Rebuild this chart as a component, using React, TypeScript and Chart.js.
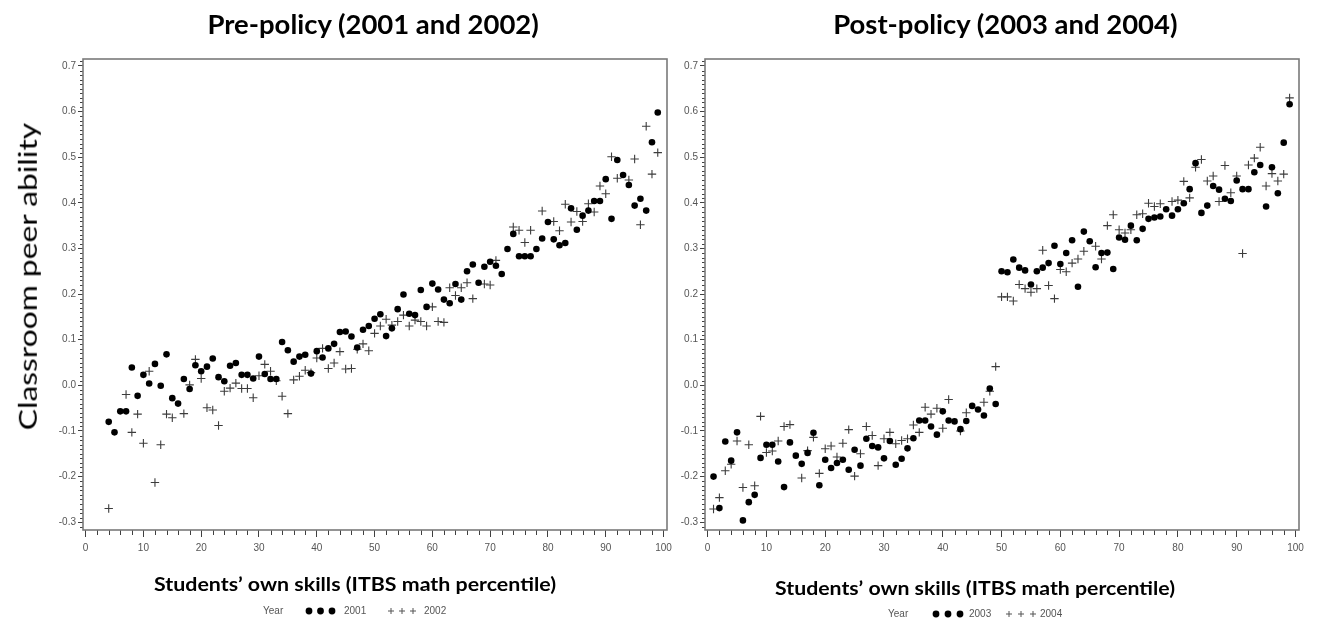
import React, { useEffect, useRef } from "react";
import { Chart, registerables } from "chart.js";

Chart.register(...registerables);

// ---------------- data ----------------
const PRE_2001_X = [
  4, 5, 6, 7, 8, 9, 10, 11, 12, 13, 14, 15, 16, 17, 18, 19, 20, 21, 22, 23,
  24, 25, 26, 27, 28, 29, 30, 31, 32, 33, 34, 35, 36, 37, 38, 39, 40, 41, 42, 43,
  44, 45, 46, 47, 48, 49, 50, 51, 52, 53, 54, 55, 56, 57, 58, 59, 60, 61, 62, 63,
  64, 65, 66, 67, 68, 69, 70, 71, 72, 73, 74, 75, 76, 77, 78, 79, 80, 81, 82, 83,
  84, 85, 86, 87, 88, 89, 90, 91, 92, 93, 94, 95, 96, 97, 98, 99,
];
const PRE_2001_Y = [
  -0.08, -0.103, -0.057, -0.057, 0.039, -0.023, 0.023, 0.004, 0.047, -0.001, 0.068, -0.028, -0.04, 0.014, -0.008, 0.044, 0.031, 0.041, 0.059, 0.018,
  0.009, 0.043, 0.049, 0.023, 0.023, 0.015, 0.063, 0.025, 0.014, 0.014, 0.095, 0.077, 0.052, 0.063, 0.067, 0.026, 0.075, 0.061, 0.081, 0.091,
  0.117, 0.118, 0.107, 0.083, 0.122, 0.13, 0.146, 0.156, 0.108, 0.125, 0.167, 0.199, 0.157, 0.154, 0.209, 0.172, 0.223, 0.21, 0.188, 0.18,
  0.222, 0.188, 0.25, 0.265, 0.225, 0.26, 0.271, 0.262, 0.244, 0.299, 0.332, 0.283, 0.283, 0.283, 0.299, 0.322, 0.358, 0.32, 0.307, 0.312,
  0.388, 0.341, 0.372, 0.383, 0.404, 0.404, 0.452, 0.365, 0.494, 0.461, 0.439, 0.394, 0.409, 0.383, 0.533, 0.598,
];

const PRE_2002_X = [
  4, 7, 8, 9, 10, 11, 12, 13, 14, 15,
  17, 18, 19, 20, 21, 22, 23, 24, 25, 26, 27, 28, 29, 30, 31, 32, 33, 34, 35, 36,
  37, 38, 39, 40, 41, 42, 43, 44, 45, 46, 47, 48, 49, 50, 51, 52, 53, 54, 55, 56,
  57, 58, 59, 60, 61, 62, 63, 64, 65, 66, 67,
  69, 70, 71, 74, 75, 76, 77, 79,
  81, 82, 83, 84, 85, 86, 87, 88, 89, 90, 91, 92,
  94, 95, 96, 97, 98, 99,
];
const PRE_2002_Y = [
  -0.27, -0.02, -0.103, -0.063, -0.127, 0.031, -0.213, -0.13, -0.063, -0.071,
  -0.062, 0.001, 0.057, 0.015, -0.049, -0.054, -0.088, -0.013, -0.006, 0.005, -0.007, -0.007, -0.027, 0.021, 0.046, 0.031, 0.01, -0.024, -0.062, 0.012,
  0.02, 0.033, 0.028, 0.06, 0.081, 0.037, 0.049, 0.074, 0.036, 0.037, 0.079, 0.091, 0.076, 0.114, 0.13, 0.145, 0.132, 0.14, 0.154, 0.13,
  0.143, 0.14, 0.13, 0.172, 0.14, 0.138, 0.214, 0.197, 0.214, 0.225, 0.19,
  0.222, 0.22, 0.274, 0.347, 0.34, 0.313, 0.34, 0.382,
  0.359, 0.339, 0.397, 0.358, 0.381, 0.359, 0.398, 0.38, 0.437, 0.42, 0.501, 0.454,
  0.45, 0.496, 0.352, 0.568, 0.463, 0.51,
];

const POST_2003_X = [
  1, 2, 3, 4, 5, 6, 7, 8, 9, 10, 11, 12, 13, 14, 15, 16, 17, 18, 19, 20,
  21, 22, 23, 24, 25, 26, 27, 28, 29, 30, 31, 32, 33, 34, 35, 36, 37, 38, 39, 40,
  41, 42, 43, 44, 45, 46, 47, 48, 49, 50, 51, 52, 53, 54, 55, 56, 57, 58, 59, 60,
  61, 62, 63, 64, 65, 66, 67, 68, 69, 70, 71, 72, 73, 74, 75, 76, 77, 78, 79, 80,
  81, 82, 83, 84, 85, 86, 87, 88, 89, 90, 91, 92, 93, 94, 95, 96, 97, 98, 99,
];
const POST_2003_Y = [
  -0.2, -0.269, -0.123, -0.165, -0.103, -0.296, -0.256, -0.24, -0.159, -0.13, -0.13, -0.167, -0.223, -0.125, -0.154, -0.172, -0.148, -0.104, -0.219, -0.163,
  -0.181, -0.17, -0.163, -0.185, -0.141, -0.176, -0.117, -0.133, -0.136, -0.16, -0.122, -0.174, -0.161, -0.138, -0.116, -0.077, -0.077, -0.09, -0.108, -0.057,
  -0.077, -0.079, -0.096, -0.078, -0.045, -0.053, -0.066, -0.007, -0.041, 0.25, 0.248, 0.276, 0.258, 0.252, 0.221, 0.25, 0.258, 0.268, 0.306, 0.266,
  0.29, 0.318, 0.216, 0.337, 0.316, 0.259, 0.29, 0.291, 0.255, 0.324, 0.319, 0.35, 0.318, 0.343, 0.365, 0.368, 0.37, 0.386, 0.372, 0.386,
  0.399, 0.43, 0.487, 0.378, 0.394, 0.437, 0.429, 0.409, 0.404, 0.449, 0.43, 0.43, 0.467, 0.483, 0.392, 0.478, 0.421, 0.532, 0.616,
];

const POST_2004_X = [
  1, 2, 3, 4, 5, 6, 7, 8, 9, 10, 11, 12, 13, 14,
  16, 17, 18, 19, 20, 21, 22, 23, 24, 25, 26, 27, 28, 29, 30, 31, 32, 33, 34, 35, 36, 37, 38, 39, 40, 41,
  43, 44,
  47, 48, 49, 50, 51, 52, 53, 54, 55, 56, 57, 58, 59, 60, 61, 62, 63, 64,
  66, 67, 68, 69, 70, 71, 72, 73, 74, 75, 76, 77,
  79, 80, 81, 82, 83, 84, 85, 86, 87, 88, 89, 90, 91, 92, 93, 94, 95, 96, 97, 98, 99,
];
const POST_2004_Y = [
  -0.271, -0.246, -0.187, -0.173, -0.122, -0.224, -0.13, -0.22, -0.068, -0.147, -0.144, -0.122, -0.09, -0.086,
  -0.203, -0.143, -0.114, -0.193, -0.139, -0.133, -0.157, -0.127, -0.097, -0.199, -0.15, -0.09, -0.11, -0.176, -0.117, -0.103, -0.128, -0.121, -0.117, -0.087, -0.103, -0.048, -0.063, -0.05, -0.094, -0.031,
  -0.1, -0.06,
  -0.037, -0.013, 0.041, 0.194, 0.194, 0.185, 0.221, 0.212, 0.204, 0.212, 0.296, 0.219, 0.19, 0.254, 0.249, 0.268, 0.277, 0.294,
  0.305, 0.277, 0.35, 0.374, 0.341, 0.334, 0.341, 0.374, 0.376, 0.399, 0.392, 0.398,
  0.403, 0.406, 0.447, 0.411, 0.478, 0.495, 0.448, 0.459, 0.403, 0.482, 0.422, 0.459, 0.289, 0.483, 0.498, 0.522, 0.437, 0.464, 0.448, 0.463, 0.63,
];

const Y_TICKS = [-0.3, -0.2, -0.1, 0, 0.1, 0.2, 0.3, 0.4, 0.5, 0.6, 0.7];
const X_TICKS = [0, 10, 20, 30, 40, 50, 60, 70, 80, 90, 100];
const Y_MIN = -0.317;
const Y_MAX = 0.7153;
const X_MIN = -0.45;
const X_MAX = 100.6;

// ---------------- helpers ----------------
function toPoints(xs: number[], ys: number[]) {
  return xs.map((x, i) => ({ x, y: ys[i] }));
}

const frameMinorPlugin = {
  id: "frameMinor",
  afterDraw(chart: any) {
    const { ctx, chartArea: a, scales } = chart;
    const xs = scales.x;
    const ys = scales.y;
    ctx.save();
    ctx.strokeStyle = "#404040";
    ctx.lineWidth = 1;
    ctx.beginPath();
    for (let i = 0; i <= 100; i += 2) {
      if (i % 10 === 0) continue;
      const px = Math.round(xs.getPixelForValue(i)) + 0.5;
      ctx.moveTo(px, a.bottom);
      ctx.lineTo(px, a.bottom + 5);
    }
    for (let i = -31; i <= 71; i++) {
      if (i % 10 === 0) continue;
      const py = Math.round(ys.getPixelForValue(i / 100)) + 0.5;
      ctx.moveTo(a.left - 3, py);
      ctx.lineTo(a.left, py);
    }
    ctx.stroke();
    ctx.strokeStyle = "#7a7a7a";
    ctx.lineWidth = 1.6;
    ctx.strokeRect(a.left, a.top, a.right - a.left, a.bottom - a.top);
    ctx.restore();
  },
};

const TICK_FONT = { family: "'Liberation Sans', Arial, sans-serif", size: 10 };

function makeConfig(
  dotX: number[],
  dotY: number[],
  dotLabel: string,
  crossX: number[],
  crossY: number[],
  crossLabel: string,
  yAxisWidth: number,
  padRight: number
): any {
  return {
    type: "scatter",
    data: {
      datasets: [
        {
          label: dotLabel,
          data: toPoints(dotX, dotY),
          pointStyle: "circle",
          pointRadius: 3.3,
          backgroundColor: "#000000",
          borderColor: "#000000",
          borderWidth: 0,
        },
        {
          label: crossLabel,
          data: toPoints(crossX, crossY),
          pointStyle: "cross",
          pointRadius: 4.2,
          backgroundColor: "rgba(0,0,0,0)",
          borderColor: "#3c3c3c",
          borderWidth: 1.1,
        },
      ],
    },
    options: {
      responsive: false,
      animation: false,
      events: [],
      layout: { padding: { left: 0, right: padRight, top: 59, bottom: 55 } },
      plugins: {
        legend: { display: false },
        title: { display: false },
        tooltip: { enabled: false },
      },
      scales: {
        x: {
          type: "linear",
          position: "bottom",
          min: X_MIN,
          max: X_MAX,
          border: { display: false },
          grid: {
            drawOnChartArea: false,
            drawTicks: true,
            tickLength: 7,
            color: "#404040",
            lineWidth: 1,
          },
          ticks: {
            font: TICK_FONT,
            color: "#555555",
            padding: 5,
            maxRotation: 0,
            autoSkip: false,
            callback: (v: any) => String(Math.round(Number(v))),
          },
          afterBuildTicks: (s: any) => {
            s.ticks = X_TICKS.map((v) => ({ value: v }));
          },
          afterFit: (s: any) => {
            s.height = 40;
          },
        },
        y: {
          type: "linear",
          position: "left",
          min: Y_MIN,
          max: Y_MAX,
          border: { display: false },
          grid: {
            drawOnChartArea: false,
            drawTicks: true,
            tickLength: 5,
            color: "#404040",
            lineWidth: 1,
          },
          ticks: {
            font: TICK_FONT,
            color: "#555555",
            padding: 2,
            autoSkip: false,
            callback: (v: any) => Number(v).toFixed(1),
          },
          afterBuildTicks: (s: any) => {
            s.ticks = Y_TICKS.map((v) => ({ value: v }));
          },
          afterFit: (s: any) => {
            s.width = yAxisWidth;
          },
        },
      },
    },
    plugins: [frameMinorPlugin],
  };
}

function ScatterPanel(props: {
  left: number;
  width: number;
  config: () => any;
}) {
  const ref = useRef<HTMLCanvasElement | null>(null);
  useEffect(() => {
    if (!ref.current) return;
    const chart = new Chart(ref.current, props.config());
    return () => chart.destroy();
  }, []);
  return (
    <canvas
      ref={ref}
      width={props.width}
      height={625}
      style={{ position: "absolute", left: props.left, top: 0, width: props.width, height: 625, display: "block" }}
    />
  );
}

let measureCtx: CanvasRenderingContext2D | null = null;
function measure(text: string, font: string) {
  if (!measureCtx) measureCtx = document.createElement("canvas").getContext("2d");
  if (!measureCtx) return text.length * 10;
  measureCtx.font = font;
  return measureCtx.measureText(text).width;
}

function FitText(props: {
  text: string;
  family: string;
  weight: number;
  size: number;
  cx: number;
  cy: number;
  targetWidth: number;
  rotate?: boolean;
  color?: string;
}) {
  const font = `${props.weight} ${props.size}px ${props.family}`;
  const w = measure(props.text, font);
  const k = props.targetWidth / w;
  const tr = props.rotate ? `rotate(-90deg) scaleX(${k})` : `scaleX(${k})`;
  return (
    <div
      style={{
        position: "absolute",
        left: props.cx - w / 2,
        top: props.cy - props.size / 2,
        width: w,
        height: props.size,
        lineHeight: `${props.size}px`,
        font,
        color: props.color || "#000",
        whiteSpace: "nowrap",
        transform: tr,
        transformOrigin: "50% 50%",
        textAlign: "center",
      }}
    >
      {props.text}
    </div>
  );
}

function Legend(props: {
  cy: number;
  yearX: number;
  dotXs: number[];
  dotLabel: string;
  dotLabelX: number;
  crossXs: number[];
  crossLabel: string;
  crossLabelX: number;
}) {
  const txt: React.CSSProperties = {
    position: "absolute",
    top: props.cy - 6,
    height: 12,
    lineHeight: "12px",
    font: "10px 'Liberation Sans', Arial, sans-serif",
    color: "#555555",
    whiteSpace: "nowrap",
  };
  return (
    <>
      <div style={{ ...txt, left: props.yearX }}>Year</div>
      <svg
        style={{ position: "absolute", left: 0, top: props.cy - 6, overflow: "visible" }}
        width={1}
        height={12}
      >
        {props.dotXs.map((x, i) => (
          <circle key={"d" + i} cx={x} cy={6} r={3.4} fill="#000" />
        ))}
        {props.crossXs.map((x, i) => (
          <g key={"c" + i} stroke="#555555" strokeWidth={1}>
            <line x1={x - 3} y1={6} x2={x + 3} y2={6} />
            <line x1={x} y1={3} x2={x} y2={9} />
          </g>
        ))}
      </svg>
      <div style={{ ...txt, left: props.dotLabelX }}>{props.dotLabel}</div>
      <div style={{ ...txt, left: props.crossLabelX }}>{props.crossLabel}</div>
    </>
  );
}

const TITLE_FAMILY = "Lato, 'Open Sans', sans-serif";

export default function App() {
  return (
    <div
      style={{
        position: "absolute",
        left: 0,
        top: 0,
        width: 1319,
        height: 625,
        background: "#ffffff",
        overflow: "hidden",
      }}
    >
      <ScatterPanel
        left={0}
        width={690}
        config={() =>
          makeConfig(PRE_2001_X, PRE_2001_Y, "2001", PRE_2002_X, PRE_2002_Y, "2002", 83, 23)
        }
      />
      <ScatterPanel
        left={670}
        width={649}
        config={() =>
          makeConfig(POST_2003_X, POST_2003_Y, "2003", POST_2004_X, POST_2004_Y, "2004", 35, 20)
        }
      />

      <FitText text="Pre-policy (2001 and 2002)" family={TITLE_FAMILY} weight={700} size={26} cx={373} cy={21} targetWidth={332} />
      <FitText text="Post-policy (2003 and 2004)" family={TITLE_FAMILY} weight={700} size={26} cx={1005.5} cy={21} targetWidth={345} />

      <FitText text="Classroom peer ability" family={TITLE_FAMILY} weight={400} size={25} cx={24} cy={276} targetWidth={308} rotate />

      <FitText text="Students’ own skills (ITBS math percentile)" family={TITLE_FAMILY} weight={700} size={18.5} cx={355} cy={582} targetWidth={402} />
      <FitText text="Students’ own skills (ITBS math percentile)" family={TITLE_FAMILY} weight={700} size={18.5} cx={975} cy={586} targetWidth={400} />

      <Legend
        cy={611}
        yearX={263}
        dotXs={[309, 320.5, 332]}
        dotLabel="2001"
        dotLabelX={344}
        crossXs={[391, 402, 413]}
        crossLabel="2002"
        crossLabelX={424}
      />
      <Legend
        cy={614}
        yearX={888}
        dotXs={[936, 948, 960]}
        dotLabel="2003"
        dotLabelX={969}
        crossXs={[1009, 1021, 1033]}
        crossLabel="2004"
        crossLabelX={1040}
      />
    </div>
  );
}
